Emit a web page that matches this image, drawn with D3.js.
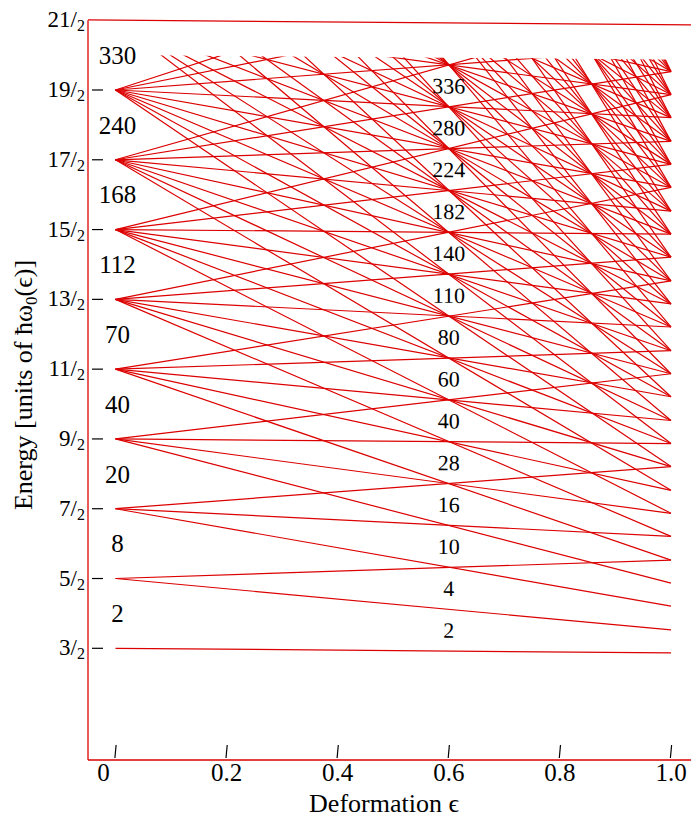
<!DOCTYPE html>
<html>
<head>
<meta charset="utf-8">
<script src="https://cdn.jsdelivr.net/npm/d3@7"></script>
<style>
  body { margin: 0; background: #fff; }
  text { font-family: "Liberation Serif", "Times New Roman", serif; fill: #000; }
</style>
</head>
<body>
<svg id="chart" width="691" height="820"></svg>
<script>
// Oscillator shells N = 0 … 25: energy at zero deformation (units of ħω0)
const shellEnergy = [1.5, 2.5, 3.5, 4.5, 5.5, 6.5, 7.5, 8.5, 9.5, 10.5, 11.5, 12.5, 13.5,
                     14.5, 15.5, 16.5, 17.5, 18.5, 19.5, 20.5, 21.5, 22.5, 23.5, 24.5, 25.5, 26.5];

// Level energies at ε = 1.0, one entry per level of each shell
// (for N ≥ 9 only the levels that come down into the plotted range)
const levelEnd = [
  [1.5],
  [2.83, 1.83],
  [4.17, 3.17, 2.17],
  [5.5, 4.5, 3.5, 2.5],
  [6.83, 5.83, 4.83, 3.83, 2.83],
  [8.17, 7.17, 6.17, 5.17, 4.17, 3.17],
  [9.5, 8.5, 7.5, 6.5, 5.5, 4.5, 3.5],
  [10.83, 9.83, 8.83, 7.83, 6.83, 5.83, 4.83, 3.83],
  [12.17, 11.17, 10.17, 9.17, 8.17, 7.17, 6.17, 5.17, 4.17],
  [9.5, 8.5, 7.5, 6.5, 5.5, 4.5],
  [9.83, 8.83, 7.83, 6.83, 5.83, 4.83],
  [9.17, 8.17, 7.17, 6.17, 5.17],
  [9.5, 8.5, 7.5, 6.5, 5.5],
  [9.83, 8.83, 7.83, 6.83, 5.83],
  [9.17, 8.17, 7.17, 6.17],
  [9.5, 8.5, 7.5, 6.5],
  [9.83, 8.83, 7.83, 6.83],
  [9.17, 8.17, 7.17],
  [9.5, 8.5, 7.5],
  [9.83, 8.83, 7.83],
  [9.17, 8.17],
  [9.5, 8.5],
  [9.83, 8.83],
  [9.17],
  [9.5],
  [9.83]
];

// Highest energy drawn
const energyCut = 10;

// Closed-shell particle numbers for the spherical oscillator (between shells at ε = 0)
const sphericalMagic  = [2, 8, 20, 40, 70, 112, 168, 240, 330];
const sphericalMagicE = [2, 3, 4, 5, 6, 7, 8, 9, 10];

// Closed-shell particle numbers at the 2:1 deformation ε = 0.6
const deformedMagic  = [2, 4, 10, 16, 28, 40, 60, 80, 110, 140, 182, 224, 280, 336];
const deformedMagicE = [1.8, 2.4, 3.0, 3.6, 4.2, 4.8, 5.4, 6.0, 6.6, 7.2, 7.8, 8.4, 9.0, 9.6];
const deformedMagicX = 0.6;

// Energy axis ticks, written as numerator / 2
const yTickNum = [3, 5, 7, 9, 11, 13, 15, 17, 19, 21];
const xTicks = [0, 0.2, 0.4, 0.6, 0.8, 1.0];
const xTickLabels = ["0", "0.2", "0.4", "0.6", "0.8", "1.0"];

const RED = "#dc0000";
const svg = d3.select("#chart");

const x = d3.scaleLinear().domain([0, 1]).range([115.5, 671]);
const y = d3.scaleLinear().domain([1.5, 10.5]).range([648.3, 20.2]);

const axisLeftX = 88, axisBottomY = 760, rightEdge = 691;

// frame: left edge and bottom axis
svg.append("line").attr("x1", axisLeftX).attr("x2", axisLeftX)
  .attr("y1", y(10.5)).attr("y2", axisBottomY)
  .attr("stroke", RED).attr("stroke-width", 1.3);
svg.append("line").attr("x1", axisLeftX).attr("x2", rightEdge)
  .attr("y1", axisBottomY).attr("y2", axisBottomY)
  .attr("stroke", RED).attr("stroke-width", 1.3);

// the level diagram itself is drawn with a slight downward slant to the right
const skewDeg = Math.atan(4.6 / (x(1) - x(0))) * 180 / Math.PI;
const plot = svg.append("g")
  .attr("transform", `translate(${x(0)},0) skewY(${skewDeg}) translate(${-x(0)},0)`);

// top frame line
plot.append("line").attr("x1", axisLeftX).attr("x2", rightEdge)
  .attr("y1", y(10.5)).attr("y2", y(10.5))
  .attr("stroke", RED).attr("stroke-width", 1.3);

svg.append("defs").append("clipPath").attr("id", "cut")
  .append("rect")
  .attr("x", axisLeftX).attr("width", rightEdge - axisLeftX)
  .attr("y", y(energyCut)).attr("height", axisBottomY - y(energyCut));

// one straight line per level, from its shell energy at ε = 0 to its energy at ε = 1
const levels = [];
levelEnd.forEach((ends, n) => ends.forEach(e1 => levels.push({ e0: shellEnergy[n], e1 })));

plot.append("g").attr("clip-path", "url(#cut)")
  .selectAll("line").data(levels).join("line")
  .attr("x1", x(0)).attr("y1", d => y(d.e0))
  .attr("x2", x(1)).attr("y2", d => y(d.e1))
  .attr("stroke", RED).attr("stroke-width", 1.2);

// particle numbers at ε = 0.6
plot.append("g").selectAll("text").data(deformedMagic).join("text")
  .attr("x", x(deformedMagicX)).attr("y", (d, i) => y(deformedMagicE[i]))
  .attr("dy", "0.35em").attr("text-anchor", "middle")
  .attr("font-size", 22).text(d => d);

// particle numbers at ε = 0
svg.append("g").selectAll("text").data(sphericalMagic).join("text")
  .attr("x", x(0) + 2).attr("y", (d, i) => y(sphericalMagicE[i]))
  .attr("dy", "0.35em").attr("text-anchor", "middle")
  .attr("font-size", 25).text(d => d);

// energy ticks and their fraction labels
const yt = svg.append("g");
yt.selectAll("line").data(yTickNum.filter(v => v < 21)).join("line")
  .attr("x1", 92).attr("x2", 103)
  .attr("y1", d => y(d / 2)).attr("y2", d => y(d / 2))
  .attr("stroke", "#000").attr("stroke-width", 1.2);
const ytl = yt.selectAll("text").data(yTickNum).join("text")
  .attr("x", 85).attr("y", d => y(d / 2) + 7)
  .attr("text-anchor", "end").attr("font-size", 23);
ytl.append("tspan").text(d => d + "/");
ytl.append("tspan").attr("font-size", 16).attr("dy", 4).text("2");

// deformation ticks
const xt = svg.append("g");
xt.selectAll("line").data(xTicks).join("line")
  .attr("x1", d => x(d) - 0.6).attr("x2", d => x(d) + 0.6)
  .attr("y1", axisBottomY - 2).attr("y2", axisBottomY - 15)
  .attr("stroke", "#000").attr("stroke-width", 1.2);
xt.selectAll("text").data(xTicks).join("text")
  .attr("x", (d, i) => i === 0 ? x(d) - 12 : x(d))
  .attr("y", 781).attr("text-anchor", "middle").attr("font-size", 25)
  .text((d, i) => xTickLabels[i]);

// axis titles
svg.append("text").attr("x", 384).attr("y", 812)
  .attr("text-anchor", "middle").attr("font-size", 26)
  .text("Deformation ϵ");

const yTitle = svg.append("text")
  .attr("transform", "translate(32,385) rotate(-90)")
  .attr("text-anchor", "middle").attr("font-size", 26);
yTitle.append("tspan").text("Energy [units of ħω");
yTitle.append("tspan").attr("font-size", 17).attr("dy", 5).text("0");
yTitle.append("tspan").attr("dy", -5).text("(ϵ)]");
</script>
</body>
</html>
